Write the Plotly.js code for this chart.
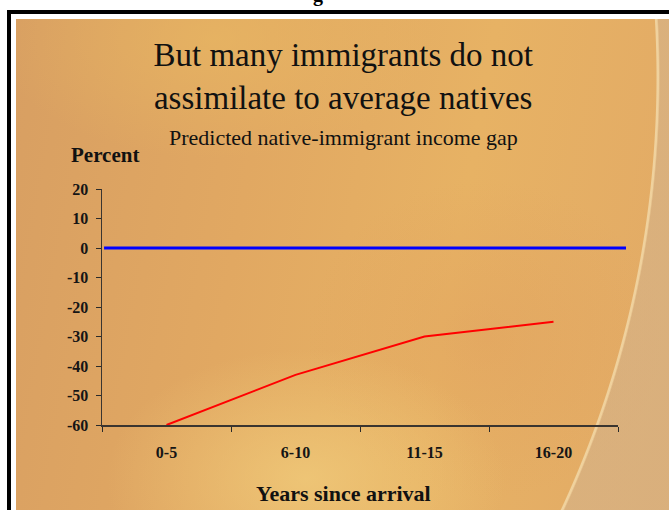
<!DOCTYPE html>
<html>
<head>
<meta charset="utf-8">
<script src="https://cdn.plot.ly/plotly-3.0.1.min.js"></script>
<style>
  html, body { margin: 0; padding: 0; background: #ffffff; }
  #page { position: relative; width: 669px; height: 510px; overflow: hidden; background: #ffffff; }
  #cutText { position: absolute; left: 313px; top: -16px; font: bold 20px/20px "Liberation Serif", "Times New Roman", serif; color: #000; }
  #frameTop { position: absolute; left: 7px; top: 10px; right: 0; height: 4px; background: #000; }
  #frameLeft { position: absolute; left: 7px; top: 10px; width: 4px; bottom: 0; background: #000; }
  #slide {
    position: absolute; left: 16px; top: 19px; right: 0; bottom: 0;
    background:
      radial-gradient(circle 1028px at -386px 58px, rgba(0,0,0,0) 1026px, rgba(244,222,176,0.75) 1027px, rgba(244,222,176,0.75) 1028.5px, rgba(214,178,134,0.7) 1030px),
      radial-gradient(ellipse 200px 130px at 290px 460px, rgba(240,202,122,0.8), rgba(240,202,122,0)),
      radial-gradient(ellipse 220px 120px at 200px 20px, rgba(234,186,98,0.6), rgba(234,186,98,0)),
      radial-gradient(ellipse 180px 160px at 470px 320px, rgba(222,154,92,0.35), rgba(222,154,92,0)),
      linear-gradient(100deg, #d89f62 0%, #e1a862 35%, #e7b264 65%, #e2aa66 100%);
  }
  #chart { position: absolute; left: 0; top: 0; width: 669px; height: 510px; }
</style>
</head>
<body>
<div id="page">
  <div id="cutText">g</div>
  <div id="frameTop"></div>
  <div id="frameLeft"></div>
  <div id="slide"></div>
  <div id="chart"></div>
</div>
<script>
// Years since arrival (categories) and the predicted income gap, in percent
const periods = ["0-5", "6-10", "11-15", "16-20"];
const incomeGap = [-60, -43, -30, -25];
// Native reference level
const nativeLevel = 0;
const yTickValues = [20, 10, 0, -10, -20, -30, -40, -50, -60];
const yTickLabels = ["20", "10", "0", "-10", "-20", "-30", "-40", "-50", "-60"];

const serif = '"Liberation Serif", "Times New Roman", serif';

const traces = [{
  type: "scatter",
  mode: "lines",
  x: periods,
  y: incomeGap,
  line: { color: "#ff0000", width: 2 },
  cliponaxis: false,
  hoverinfo: "skip"
}];

const layout = {
  width: 669,
  height: 510,
  margin: { l: 102, r: 51, t: 189, b: 85, pad: 0 },
  paper_bgcolor: "rgba(0,0,0,0)",
  plot_bgcolor: "rgba(0,0,0,0)",
  showlegend: false,
  title: {
    text: "But many immigrants do not<br>assimilate to average natives",
    font: { family: serif, size: 33, color: "#111111" },
    x: 0.513, xanchor: "center", xref: "container",
    y: 0.870, yanchor: "middle", yref: "container"
  },
  xaxis: {
    type: "category",
    range: [-0.5, 3.5],
    tickson: "boundaries",
    ticks: "outside",
    ticklen: 5,
    tickwidth: 1,
    tickcolor: "#2a2a2a",
    ticklabelstandoff: 12,
    showline: true,
    linecolor: "#3a3530",
    linewidth: 1.5,
    showgrid: false,
    zeroline: false,
    tickfont: { family: serif, size: 16, color: "#151515", weight: 700 }
  },
  yaxis: {
    range: [-60, 20],
    tickvals: yTickValues,
    ticktext: yTickLabels,
    ticks: "outside",
    ticklen: 5,
    tickwidth: 1,
    tickcolor: "#2a2a2a",
    ticklabelstandoff: 4,
    showline: true,
    linecolor: "#3a3530",
    linewidth: 1.5,
    showgrid: false,
    zeroline: false,
    tickfont: { family: serif, size: 16, color: "#151515", weight: 700 }
  },
  shapes: [{
    type: "line",
    xref: "paper", yref: "y",
    x0: 0.004, x1: 1.0155,
    y0: nativeLevel, y1: nativeLevel,
    line: { color: "#0000ff", width: 3 }
  }],
  annotations: [
    {
      text: "Predicted native-immigrant income gap",
      xref: "paper", yref: "paper",
      x: 0.468, y: 1.22, xanchor: "center", yanchor: "middle",
      showarrow: false,
      font: { family: serif, size: 22, color: "#111111" }
    },
    {
      text: "<b>Percent</b>",
      xref: "paper", yref: "paper",
      x: -0.064, y: 1.144, xanchor: "left", yanchor: "middle",
      showarrow: false,
      font: { family: serif, size: 21, color: "#111111" }
    },
    {
      text: "<b>Years since arrival</b>",
      xref: "paper", yref: "paper",
      x: 0.468, y: -0.292, xanchor: "center", yanchor: "middle",
      showarrow: false,
      font: { family: serif, size: 22, color: "#111111" }
    }
  ]
};

Plotly.newPlot("chart", traces, layout, { displayModeBar: false, staticPlot: true });
</script>
</body>
</html>
